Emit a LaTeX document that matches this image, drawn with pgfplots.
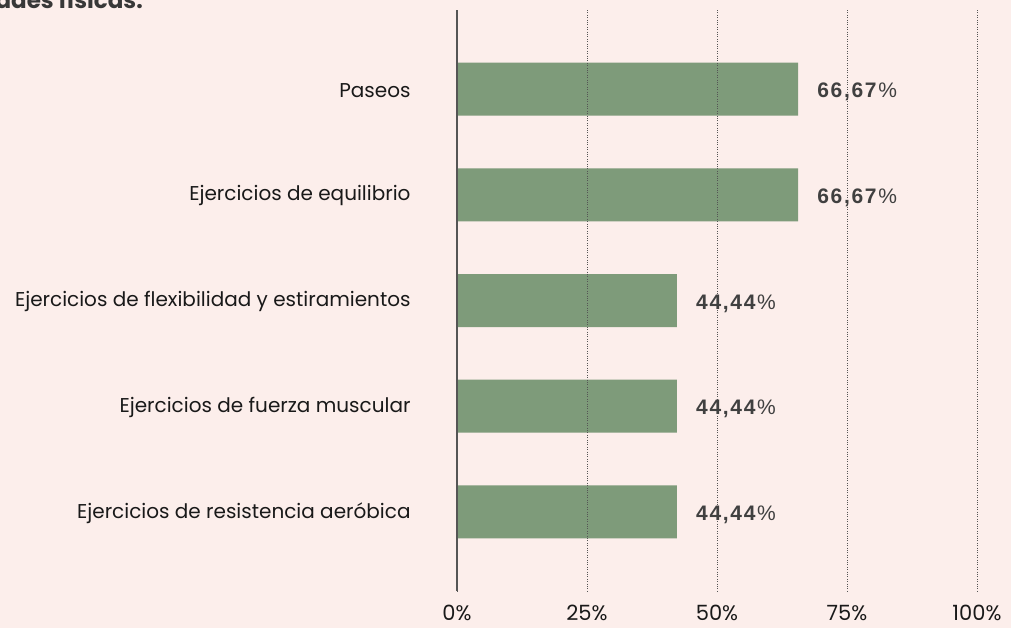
\documentclass[border=0pt]{standalone}
\usepackage{fontspec}
\setmainfont{Poppins}
\newfontfamily\valfont[LetterSpace=8]{Liberation Sans}
\usepackage{pgfplots}
\pgfplotsset{compat=1.18}
\definecolor{bg}{HTML}{FCEEEB}
\definecolor{barc}{HTML}{7E9B7A}
\definecolor{valc}{HTML}{404040}
\definecolor{gridc}{HTML}{555555}

\pgfplotstableread{
x y label
65.6 0 66,67
65.6 1 66,67
42.3 2 44,44
42.3 3 44,44
42.3 4 44,44
}\datatable

\begin{document}
\begin{tikzpicture}[x=1pt,y=1pt]
\fill[bg] (0,-628) rectangle (1011,0);
\useasboundingbox (0,-628) rectangle (1011,0);
\node[anchor=base east, font=\fontsize{23}{28}\selectfont\bfseries, text=black!78, inner sep=0pt] at (143,-9) {actividades físicas.};
\begin{axis}[
 at={(457pt,-591pt)}, anchor=south west,
 scale only axis, width=520pt, height=581pt,
 xmin=0, xmax=100, ymin=-0.75, ymax=4.75, y dir=reverse,
 xbar, bar width=53pt,
 axis on top,
 axis line style={draw=none},
 tick style={draw=none},
 xtick={0,25,50,75,100},
 xticklabels={0\%,25\%,50\%,75\%,100\%},
 xmajorgrids,
 major grid style={dotted, gridc, line width=1pt},
 extra x ticks={0}, extra x tick labels={},
 extra x tick style={grid=major, major grid style={solid, gridc, line width=1.1pt}},
 ytick={0,...,4},
 yticklabels={Paseos, Ejercicios de equilibrio, Ejercicios de flexibilidad y estiramientos, Ejercicios de fuerza muscular, Ejercicios de resistencia aeróbica},
 yticklabel style={anchor=east, inner sep=0pt, xshift=-42pt, yshift=-1pt, font=\fontsize{20}{24}\selectfont, text=black!90},
 xticklabel style={anchor=center, inner sep=0pt, yshift=-22pt, font=\fontsize{21}{24}\selectfont, text=black!90},
 nodes near coords={\textbf{\pgfplotspointmeta}\%},
 point meta=explicit symbolic,
 nodes near coords style={anchor=west, inner sep=0pt, xshift=19pt, yshift=-3pt, font=\valfont\fontsize{21}{24}\selectfont, text=valc},
]
\addplot[fill=barc, draw=none] table[x=x, y=y, meta=label] {\datatable};
\end{axis}
\end{tikzpicture}
\end{document}
